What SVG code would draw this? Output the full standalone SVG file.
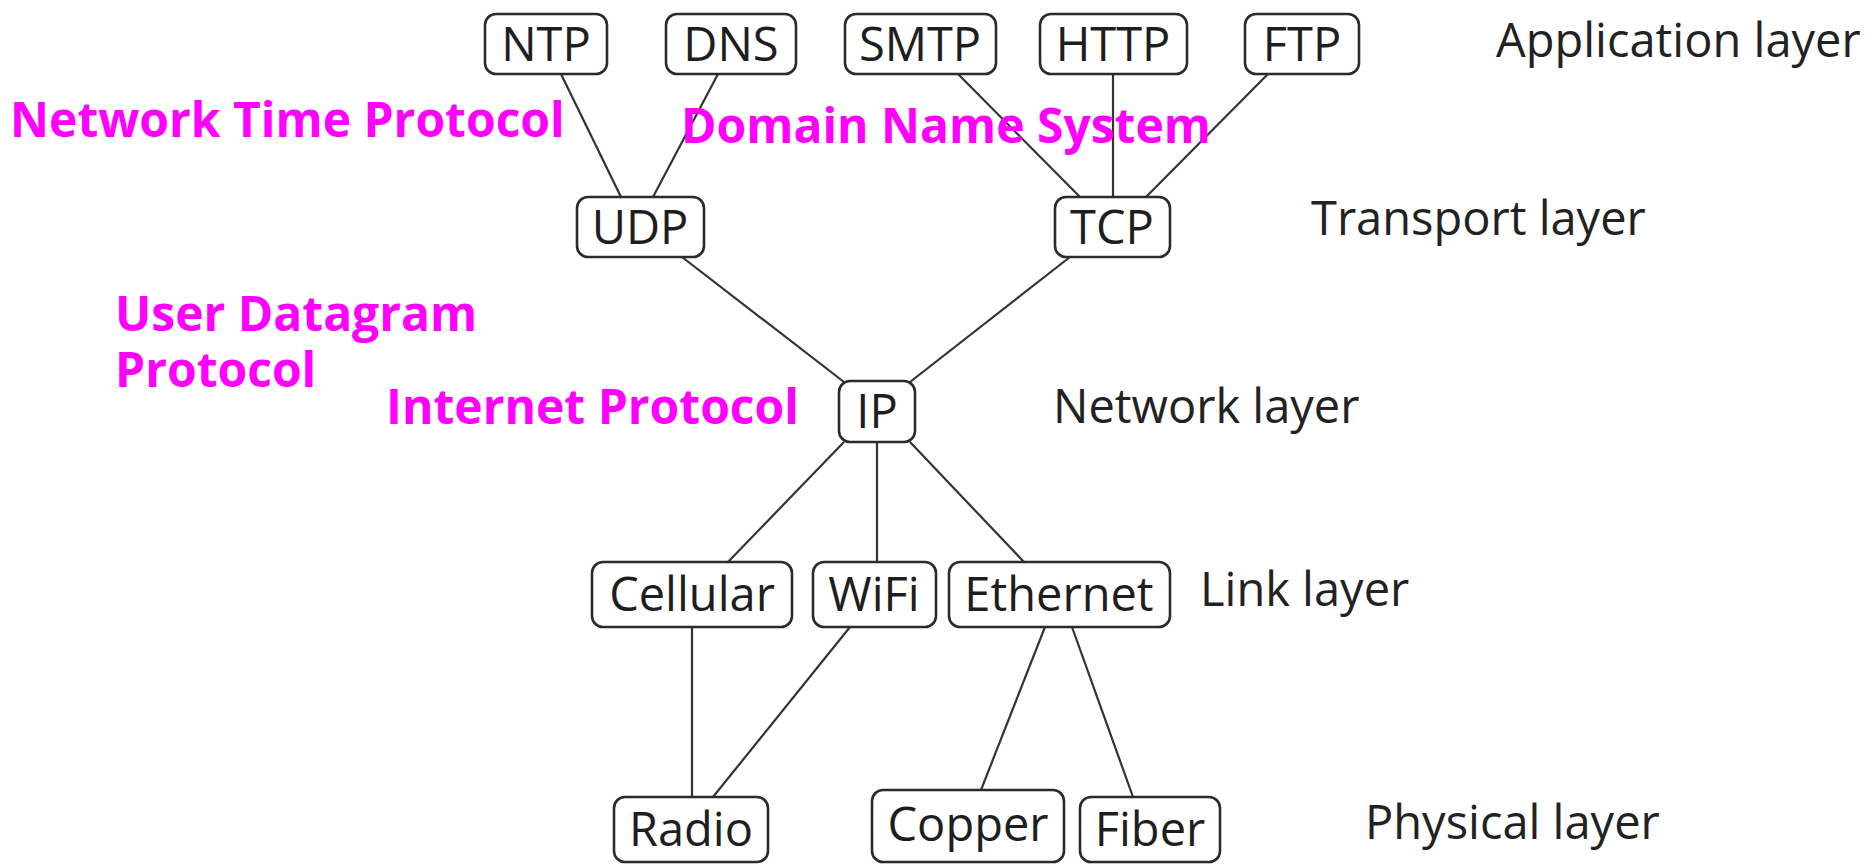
<svg xmlns="http://www.w3.org/2000/svg" width="1872" height="867" viewBox="0 0 1872 867">
<style>
.box{fill:#fff;stroke:#2b2b2b;stroke-width:2.6}
.lbl{font-family:"Open Sans","Liberation Sans",sans-serif;font-size:47px;fill:#1e1e1e;text-anchor:middle}
.layer{font-family:"Open Sans","Liberation Sans",sans-serif;font-size:47px;fill:#222}
.mg{font-family:"Open Sans","Liberation Sans",sans-serif;font-weight:bold;font-size:48px;fill:#ff00ff}
.edge{stroke:#333;stroke-width:2.2;fill:none}
</style>
<rect width="1872" height="867" fill="#fff"/>
<g id="connectors">
<line class="edge" x1="561" y1="74" x2="621" y2="197"/>
<line class="edge" x1="718" y1="74" x2="653" y2="197"/>
<line class="edge" x1="958" y1="74" x2="1080" y2="197"/>
<line class="edge" x1="1113" y1="74" x2="1113" y2="197"/>
<line class="edge" x1="1268" y1="74" x2="1146" y2="197"/>
<line class="edge" x1="682" y1="257" x2="844" y2="382"/>
<line class="edge" x1="1070" y1="257" x2="910" y2="382"/>
<line class="edge" x1="844" y1="442" x2="728" y2="562"/>
<line class="edge" x1="877" y1="442" x2="877" y2="562"/>
<line class="edge" x1="910" y1="442" x2="1024" y2="562"/>
<line class="edge" x1="692" y1="627" x2="692" y2="797"/>
<line class="edge" x1="850" y1="627" x2="713" y2="797"/>
<line class="edge" x1="1045" y1="627" x2="981" y2="790"/>
<line class="edge" x1="1072" y1="627" x2="1133" y2="797"/>
</g>
<g id="ntp"><rect class="box" x="485" y="14" width="122" height="60" rx="11"/><text class="lbl" x="546" y="61">NTP</text></g>
<g id="dns"><rect class="box" x="666" y="14" width="130" height="60" rx="11"/><text class="lbl" x="731" y="61">DNS</text></g>
<g id="smtp"><rect class="box" x="845" y="14" width="151" height="60" rx="11"/><text class="lbl" x="920" y="61">SMTP</text></g>
<g id="http"><rect class="box" x="1040" y="14" width="147" height="60" rx="11"/><text class="lbl" x="1113" y="61">HTTP</text></g>
<g id="ftp"><rect class="box" x="1245" y="14" width="114" height="60" rx="11"/><text class="lbl" x="1302" y="61">FTP</text></g>
<g id="udp"><rect class="box" x="577" y="197" width="127" height="60" rx="11"/><text class="lbl" x="640" y="244">UDP</text></g>
<g id="tcp"><rect class="box" x="1055" y="197" width="115" height="60" rx="11"/><text class="lbl" x="1112" y="244">TCP</text></g>
<g id="ip"><rect class="box" x="839" y="381" width="76" height="61" rx="11"/><text class="lbl" x="877" y="428">IP</text></g>
<g id="cellular"><rect class="box" x="592" y="562" width="200" height="65" rx="11"/><text class="lbl" x="692" y="611">Cellular</text></g>
<g id="wifi"><rect class="box" x="813" y="562" width="123" height="65" rx="11"/><text class="lbl" x="874" y="611">WiFi</text></g>
<g id="ethernet"><rect class="box" x="949" y="562" width="221" height="65" rx="11"/><text class="lbl" x="1059" y="611">Ethernet</text></g>
<g id="radio"><rect class="box" x="614" y="797" width="154" height="65" rx="11"/><text class="lbl" x="691" y="846">Radio</text></g>
<g id="copper"><rect class="box" x="872" y="790" width="192" height="72" rx="11"/><text class="lbl" x="968" y="841">Copper</text></g>
<g id="fiber"><rect class="box" x="1080" y="797" width="140" height="65" rx="11"/><text class="lbl" x="1150" y="846">Fiber</text></g>
<g id="layers">
<text class="layer" x="1496" y="57">Application layer</text>
<text class="layer" x="1311" y="235">Transport layer</text>
<text class="layer" x="1053" y="423">Network layer</text>
<text class="layer" x="1200" y="606">Link layer</text>
<text class="layer" x="1365" y="839">Physical layer</text>
</g>
<g id="annotations">
<text class="mg" x="10" y="137">Network Time Protocol</text>
<text class="mg" x="681" y="143">Domain Name System</text>
<text class="mg" x="115" y="331">User Datagram</text>
<text class="mg" x="115" y="387">Protocol</text>
<text class="mg" x="386" y="424">Internet Protocol</text>
</g>
</svg>
